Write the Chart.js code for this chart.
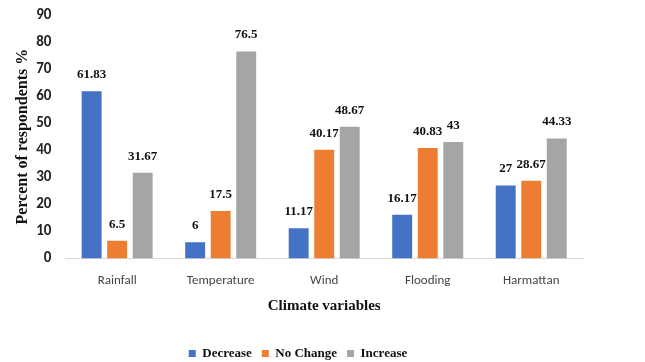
<!DOCTYPE html>
<html>
<head>
<meta charset="utf-8">
<script src="https://cdn.jsdelivr.net/npm/chart.js@4"></script>
<style>
  html, body { margin: 0; padding: 0; background: #fff; }
  #wrap { width: 645px; height: 362px; }
</style>
</head>
<body>
<div id="wrap"><canvas id="chart"></canvas></div>
<script>
const categories = ["Rainfall", "Temperature", "Wind", "Flooding", "Harmattan"];
const decrease = [61.83, 6, 11.17, 16.17, 27];
const noChange = [6.5, 17.5, 40.17, 40.83, 28.67];
const increase = [31.67, 76.5, 48.67, 43, 44.33];

// value labels above each bar
const barLabels = {
  id: "barLabels",
  afterDatasetsDraw(chart) {
    const ctx = chart.ctx;
    ctx.save();
    ctx.font = "bold 13px 'Liberation Serif', 'Times New Roman', serif";
    ctx.fillStyle = "#111";
    ctx.textAlign = "center";
    ctx.textBaseline = "bottom";
    chart.data.datasets.forEach((ds, i) => {
      chart.getDatasetMeta(i).data.forEach((bar, j) => {
        ctx.fillText(String(ds.data[j]), bar.x, bar.y - 10);
      });
    });
    ctx.restore();
  }
};

new Chart(document.getElementById("chart"), {
  type: "bar",
  data: {
    labels: categories,
    datasets: [
      { label: "Decrease", data: decrease, backgroundColor: "#4472C4" },
      { label: "No Change", data: noChange, backgroundColor: "#ED7D31" },
      { label: "Increase", data: increase, backgroundColor: "#A5A5A5" }
    ]
  },
  options: {
    responsive: true,
    maintainAspectRatio: false,
    animation: false,
    categoryPercentage: 0.74,
    barPercentage: 0.78,
    layout: { padding: { top: 0, right: 62, bottom: -8, left: 13 } },
    plugins: {
      tooltip: { enabled: false },
      legend: {
        position: "bottom",
        labels: {
          boxWidth: 7,
          boxHeight: 7,
          padding: 10,
          color: "#111",
          font: { family: "'Liberation Serif', 'Times New Roman', serif", size: 13, weight: "bold" }
        }
      }
    },
    scales: {
      x: {
        grid: { display: false, drawTicks: false },
        border: { color: "#d9d9d9" },
        ticks: { color: "#444", font: { family: "Carlito, 'Liberation Sans', sans-serif", size: 13 }, padding: 15 },
        title: {
          display: true,
          text: "Climate variables",
          color: "#111",
          font: { family: "'Liberation Serif', 'Times New Roman', serif", size: 15, weight: "bold" },
          padding: { top: -7, bottom: 22 }
        }
      },
      y: {
        min: 0,
        max: 90,
        afterFit: s => { s.paddingTop = 15; },
        ticks: { stepSize: 10, color: "#222", font: { family: "Carlito, 'Liberation Sans', sans-serif", size: 15, weight: "bold" }, padding: 14 },
        grid: { display: false, drawTicks: false },
        border: { display: false },
        title: {
          display: true,
          text: "Percent of respondents %",
          color: "#111",
          font: { family: "'Liberation Serif', 'Times New Roman', serif", size: 16, weight: "bold" },
          padding: { top: 0, bottom: -10 }
        }
      }
    }
  },
  plugins: [barLabels]
});
</script>
</body>
</html>
